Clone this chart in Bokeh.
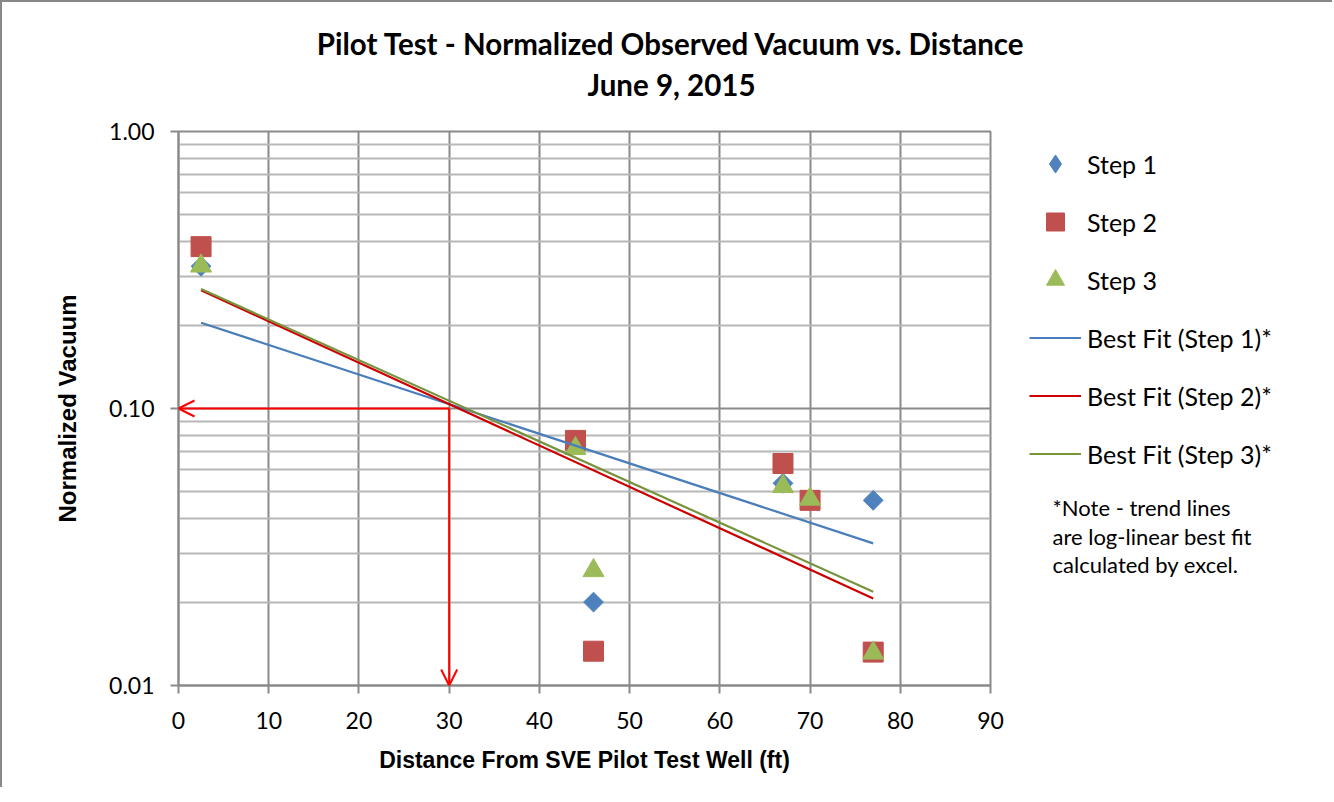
from bokeh.plotting import figure
from bokeh.layouts import column, row
from bokeh.models import (Range1d, FixedTicker, PrintfTickFormatter, Legend, LegendItem,
                          Label, Arrow, OpenHead)
from bokeh.embed import file_html
from bokeh.resources import INLINE
import numpy as np

# ---------------- data ----------------
distance = [2.5, 44, 46, 67, 70, 77]
step1 = [0.326, 0.077, 0.020, 0.0537, 0.0466, 0.0466]
step2 = [0.384, 0.0767, 0.0133, 0.0633, 0.0466, 0.0132]
step3 = [0.327, 0.0717, 0.026, 0.0523, 0.0471, 0.0131]

fit_x = [2.5, 77]
fit1 = [0.204, 0.0326]
fit2 = [0.267, 0.0206]
fit3 = [0.270, 0.0218]

arrow_x = 30
arrow_y = 0.1
x_ticks = [0, 10, 20, 30, 40, 50, 60, 70, 80, 90]
y_ticks = [0.01, 0.1, 1.0]
y_minor = [0.02, 0.03, 0.04, 0.05, 0.06, 0.07, 0.08, 0.09,
           0.2, 0.3, 0.4, 0.5, 0.6, 0.7, 0.8, 0.9]

title_lines = ["Pilot Test - Normalized Observed Vacuum vs. Distance", "June 9, 2015"]
series_labels = ["Step 1", "Step 2", "Step 3",
                 "Best Fit (Step 1)*", "Best Fit (Step 2)*", "Best Fit (Step 3)*"]
note_lines = ["*Note - trend lines", "are log-linear best fit", "calculated by excel."]

C1, C2, C3 = "#4F81BD", "#C0504D", "#9BBB59"
L1, L2, L3 = "#4A7EBB", "#CC0000", "#77933C"
GRID = "#8a8a8a"

TOTAL_W = 1330
TITLE_H = 114
MAIN_H = 671
P_W = 1008


def blank(w, h, xr, yr):
    f = figure(width=w, height=h, output_backend="svg", toolbar_location=None,
               x_range=xr, y_range=yr, x_axis_location=None, y_axis_location=None,
               min_border=0, title=None)
    f.grid.visible = False
    f.outline_line_color = None
    f.background_fill_color = "white"
    f.border_fill_color = "white"
    return f


# ---------------- title strip ----------------
t = blank(TOTAL_W, TITLE_H, Range1d(0, TOTAL_W), Range1d(TITLE_H, 0))
for txt, yy in zip(title_lines, [41, 82]):
    t.add_layout(Label(x=669, y=yy, text=txt, text_align="center", text_baseline="middle",
                       text_font="Lato", text_font_style="bold", text_font_size="29.5px",
                       text_color="black"))

# ---------------- main chart ----------------
p = figure(width=P_W, height=MAIN_H, output_backend="svg", toolbar_location=None,
           y_axis_type="log", x_range=Range1d(0, 90), y_range=Range1d(0.01, 1.0),
           min_border_left=176, min_border_right=P_W - 176 - 812, min_border_top=15,
           min_border_bottom=MAIN_H - 554 - 15)
p.background_fill_color = "white"
p.border_fill_color = "white"
p.outline_line_color = GRID
p.outline_line_width = 2

p.xaxis.ticker = FixedTicker(ticks=x_ticks, minor_ticks=[])
p.yaxis.ticker = FixedTicker(ticks=y_ticks, minor_ticks=y_minor)
p.yaxis.formatter = PrintfTickFormatter(format="%.2f")
for ax in (p.xaxis[0], p.yaxis[0]):
    ax.axis_line_color = GRID
    ax.axis_line_width = 2
    ax.major_tick_line_color = GRID
    ax.major_tick_line_width = 2
    ax.major_tick_in = 0
    ax.major_tick_out = 8
    ax.minor_tick_in = 0
    ax.minor_tick_out = 0
    ax.major_label_text_font = "Lato"
    ax.major_label_text_font_size = "23px"
    ax.major_label_text_color = "black"
    ax.axis_label_text_font = "Liberation Sans"
    ax.axis_label_text_font_style = "bold"
    ax.axis_label_text_color = "black"

p.xaxis.axis_label = "Distance From SVE Pilot Test Well (ft)"
p.yaxis.axis_label = "Normalized Vacuum"
p.xaxis.axis_label_text_font_size = "23px"
p.yaxis.axis_label_text_font_size = "24px"
p.xaxis.major_label_standoff = 18
p.xaxis.axis_label_standoff = 15
p.yaxis.major_label_standoff = 16
p.yaxis.axis_label_standoff = 25

p.xgrid.grid_line_color = GRID
p.xgrid.grid_line_width = 2
p.ygrid.grid_line_color = GRID
p.ygrid.grid_line_width = 2
p.ygrid.minor_grid_line_color = "#b8b8b8"
p.ygrid.minor_grid_line_width = 2

p.scatter(distance, step1, marker="square", angle=np.pi / 4, size=14,
          fill_color=C1, line_color=C1)
p.scatter(distance, step2, marker="square", size=20, fill_color=C2, line_color=C2)
p.scatter(distance, step3, marker="triangle", size=21, fill_color=C3, line_color=C3)

p.line(fit_x, fit1, line_color=L1, line_width=2.2)
p.line(fit_x, fit2, line_color=L2, line_width=2.2)
p.line(fit_x, fit3, line_color=L3, line_width=2.2)

p.add_layout(Arrow(end=OpenHead(size=16, line_color="#FF0000", line_width=2),
                   x_start=arrow_x, y_start=arrow_y, x_end=x_ticks[0], y_end=arrow_y,
                   line_color="#FF0000", line_width=2))
p.add_layout(Arrow(end=OpenHead(size=16, line_color="#FF0000", line_width=2),
                   x_start=arrow_x, y_start=arrow_y, x_end=arrow_x, y_end=y_ticks[0],
                   line_color="#FF0000", line_width=2))

# ---------------- legend / note panel ----------------
Q_W = TOTAL_W - P_W
q = blank(Q_W, MAIN_H, Range1d(0, Q_W), Range1d(MAIN_H, 0))
nan = [np.nan]
g1 = q.scatter(nan, nan, marker="diamond", size=20, fill_color=C1, line_color=C1)
g2 = q.scatter(nan, nan, marker="square", size=20, fill_color=C2, line_color=C2)
g3 = q.scatter(nan, nan, marker="triangle", size=21, fill_color=C3, line_color=C3)
g4 = q.line(nan, nan, line_color=L1, line_width=2)
g5 = q.line(nan, nan, line_color=L2, line_width=2)
g6 = q.line(nan, nan, line_color=L3, line_width=2)

legend = Legend(items=[LegendItem(label=lab, renderers=[g])
                       for lab, g in zip(series_labels, [g1, g2, g3, g4, g5, g6])],
                location=(19, 209), orientation="vertical")
legend.border_line_color = None
legend.background_fill_alpha = 0
legend.padding = 0
legend.margin = 0
legend.spacing = 13
legend.glyph_width = 52
legend.glyph_height = 45
legend.label_height = 45
legend.label_standoff = 6
legend.label_text_font = "Lato"
legend.label_text_font_size = "25px"
legend.label_text_color = "black"
q.add_layout(legend, "center")

for txt, yy in zip(note_lines, [455, 490, 525]):
    q.add_layout(Label(x=42, y=yy, text=txt, text_align="left", text_baseline="middle",
                       text_font="Lato", text_font_size="22px", text_color="black"))

layout = column(t, row(p, q, spacing=0), spacing=0,
                styles={"border-left": "2px solid #888888", "border-top": "2px solid #888888"})

open("out.html", "w").write(file_html(layout, INLINE))
